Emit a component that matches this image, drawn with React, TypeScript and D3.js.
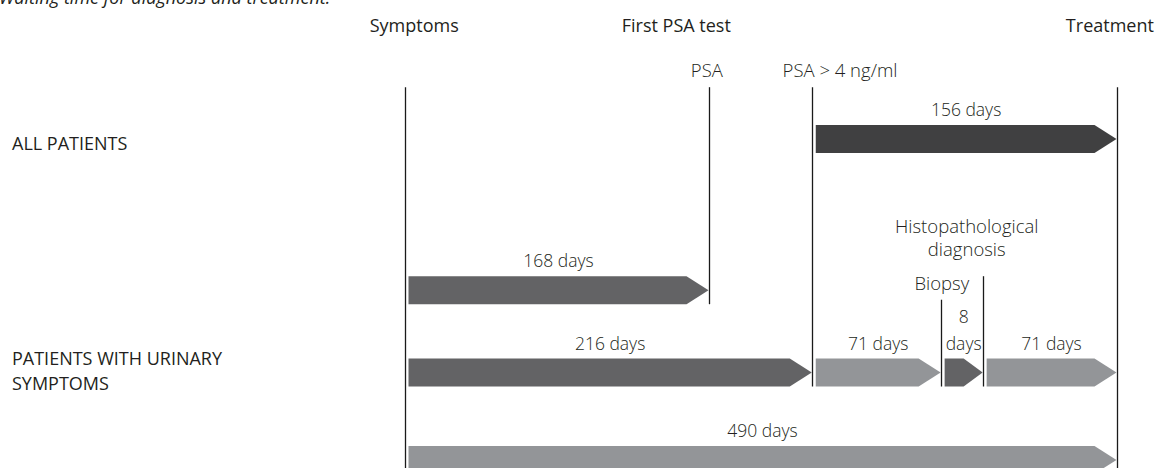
import * as d3 from "d3"

// schematic timeline: milestones placed on a 0..100 track (not to scale in days)
const milestones = [
  { key: "symptoms", at: 0 },
  { key: "psa", at: 42.7 },
  { key: "psa4", at: 57.2 },
  { key: "biopsy", at: 75.3 },
  { key: "histo", at: 81.2 },
  { key: "treatment", at: 100 },
]

const headerLabels = [
  { text: "Symptoms", at: 1.3 },
  { text: "First PSA test", at: 38.1 },
  { text: "Treatment", at: 99.0 },
]

const subLabels = [
  { lines: ["PSA"], at: 42.4, track: -0.57 },
  { lines: ["PSA > 4 ng/ml"], at: 61.1, track: -0.57 },
  { lines: ["Histopathological", "diagnosis"], at: 78.9, track: 1.28 },
  { lines: ["Biopsy"], at: 75.4, track: 1.97 },
]

// vertical milestone lines, from track to track (bottom = below that track's bar)
const milestoneLines = [
  { key: "symptoms", from: -0.45, to: 4.2 },
  { key: "psa", from: -0.45, to: 1.8 },
  { key: "psa4", from: -0.45, to: 2.78 },
  { key: "biopsy", from: 2.08, to: 2.78 },
  { key: "histo", from: 1.8, to: 2.78 },
  { key: "treatment", from: -0.45, to: 4.2 },
]

const groupLabels = [
  { lines: ["ALL PATIENTS"], track: 0.3 },
  { lines: ["PATIENTS WITH URINARY", "SYMPTOMS"], track: 2.86 },
]

const bars = [
  { label: ["156 days"], start: "psa4", end: "treatment", track: 0, tone: "dark" },
  { label: ["168 days"], start: "symptoms", end: "psa", track: 1.8, tone: "mid" },
  { label: ["216 days"], start: "symptoms", end: "psa4", track: 2.78, tone: "mid" },
  { label: ["71 days"], start: "psa4", end: "biopsy", track: 2.78, tone: "light" },
  { label: ["8", "days"], start: "biopsy", end: "histo", track: 2.78, tone: "mid" },
  { label: ["71 days"], start: "histo", end: "treatment", track: 2.78, tone: "light" },
  { label: ["490 days"], start: "symptoms", end: "treatment", track: 3.82, tone: "light" },
]

const tones: Record<string, string> = {
  dark: "#404041",
  mid: "#636365",
  light: "#939598",
}

const W = 1158
const H = 468
const barH = 28
const tip = 22
const font = "'Open Sans', 'Noto Sans', sans-serif"
const ink = "#231f20"

export default function App() {
  const x = d3.scaleLinear().domain([0, 100]).range([405, 1117])
  const y = d3.scaleLinear().domain([0, 1]).range([125, 209])
  const at = (k: string) => x(milestones.find((m) => m.key === k)!.at)

  const arrow = (x0: number, x1: number, y0: number) => {
    const t = Math.min(tip, (x1 - x0) / 2)
    const p = d3.path()
    p.moveTo(x0, y0)
    p.lineTo(x1 - t, y0)
    p.lineTo(x1, y0 + barH / 2)
    p.lineTo(x1 - t, y0 + barH)
    p.lineTo(x0, y0 + barH)
    p.closePath()
    return p.toString()
  }

  return (
    <svg
      width={W}
      height={H}
      style={{ position: "absolute", left: 0, top: 0, background: "#fff" }}
      fontFamily={font}
    >
      <text x={-1} y={4} fontSize={18} fontStyle="italic" fill={ink}>
        Waiting time for diagnosis and treatment.
      </text>

      {headerLabels.map((h) => (
        <text key={h.text} x={x(h.at)} y={32} fontSize={18} textAnchor="middle" fill={ink}>
          {h.text}
        </text>
      ))}

      {subLabels.map((s) => (
        <text key={s.lines[0]} x={x(s.at)} y={y(s.track)} fontSize={18.5} fontWeight={300} textAnchor="middle" fill={ink}>
          {s.lines.map((l, i) => (
            <tspan key={l} x={x(s.at)} dy={i === 0 ? 0 : 23}>
              {l}
            </tspan>
          ))}
        </text>
      ))}

      {groupLabels.map((g) => (
        <text key={g.lines[0]} x={12} y={y(g.track)} fontSize={18} fill={ink}>
          {g.lines.map((l, i) => (
            <tspan key={l} x={12} dy={i === 0 ? 0 : 25}>
              {l}
            </tspan>
          ))}
        </text>
      ))}

      {milestoneLines.map((m) => (
        <line
          key={m.key}
          x1={Math.round(at(m.key)) + 0.5}
          x2={Math.round(at(m.key)) + 0.5}
          y1={y(m.from)}
          y2={Math.min(y(m.to) + barH, H + 10)}
          stroke="#1a1a1a"
          strokeWidth={1.3}
        />
      ))}

      {bars.map((b, i) => {
        const x0 = at(b.start) + 3.5
        const x1 = at(b.end) - 0.5
        const top = y(b.track)
        const cx = (x0 + x1) / 2
        const n = b.label.length
        return (
          <g key={i}>
            <path d={arrow(x0, x1, top)} fill={tones[b.tone]} />
            <text x={cx} y={top - 9 - (n - 1) * 27} fontSize={17.5} fontWeight={300} textAnchor="middle" fill={ink}>
              {b.label.map((l, j) => (
                <tspan key={j} x={cx} dy={j === 0 ? 0 : 27}>
                  {l}
                </tspan>
              ))}
            </text>
          </g>
        )
      })}
    </svg>
  )
}
